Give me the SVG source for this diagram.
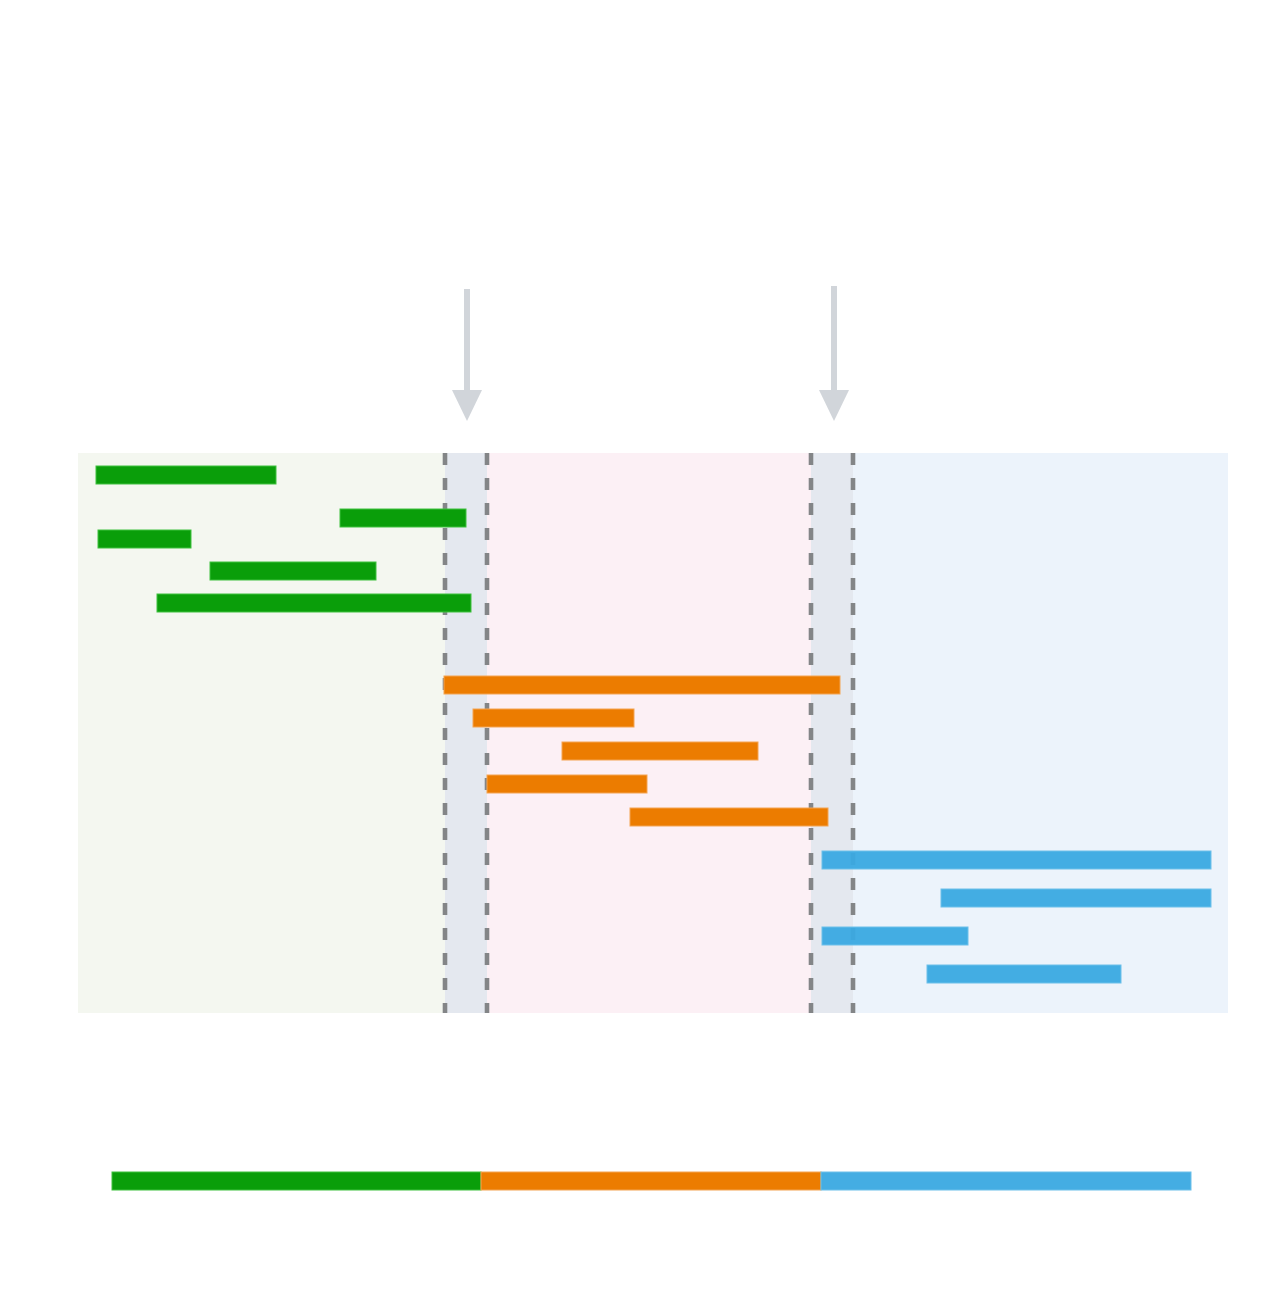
<svg xmlns="http://www.w3.org/2000/svg" width="1267" height="1303" viewBox="0 0 1267 1303">
<style>
.g{fill:#0a9e0a;stroke:#3ec13e;stroke-width:1}
.o{fill:#ec7c00;stroke:#f3a452;stroke-width:1}
.b{fill:#3aa9e1;fill-opacity:0.95;stroke:#6cc0ea;stroke-width:1}
.dash{stroke:#838587;stroke-width:4.6;stroke-dasharray:12 13;fill:none}
.arr{fill:#d1d5da}
</style>
<rect width="1267" height="1303" fill="#ffffff"/>
<g id="panels">
<rect x="78" y="453" width="367" height="560" fill="#f4f7f0"/>
<rect x="445" y="453" width="42" height="560" fill="#e4e8ef"/>
<rect x="487" y="453" width="324" height="560" fill="#fcf0f5"/>
<rect x="811" y="453" width="42" height="560" fill="#e4e8ef"/>
<rect x="853" y="453" width="375" height="560" fill="#ecf3fb"/>
</g>
<g id="connectors">
<line class="dash" x1="445" y1="453" x2="445" y2="1013"/>
<line class="dash" x1="487" y1="453" x2="487" y2="1013"/>
<line class="dash" x1="811" y1="453" x2="811" y2="1013"/>
<line class="dash" x1="853" y1="453" x2="853" y2="1013"/>
<g id="arrow1"><rect class="arr" x="464" y="289" width="6" height="103"/><polygon class="arr" points="452,390 482,390 467,421"/></g>
<g id="arrow2"><rect class="arr" x="831" y="286" width="6" height="106"/><polygon class="arr" points="819,390 849,390 834,421"/></g>
</g>
<g id="green-bars">
<rect class="g" x="96" y="466" width="180" height="18"/>
<rect class="g" x="340" y="509" width="126" height="18"/>
<rect class="g" x="98" y="530" width="93" height="18"/>
<rect class="g" x="210" y="562" width="166" height="18"/>
<rect class="g" x="157" y="594" width="314" height="18"/>
</g>
<g id="orange-bars">
<rect class="o" x="444" y="676" width="396" height="18"/>
<rect class="o" x="473" y="709" width="161" height="18"/>
<rect class="o" x="562" y="742" width="196" height="18"/>
<rect class="o" x="487" y="775" width="160" height="18"/>
<rect class="o" x="630" y="808" width="198" height="18"/>
</g>
<g id="blue-bars">
<rect class="b" x="822" y="851" width="389" height="18"/>
<rect class="b" x="941" y="889" width="270" height="18"/>
<rect class="b" x="822" y="927" width="146" height="18"/>
<rect class="b" x="927" y="965" width="194" height="18"/>
</g>
<g id="timeline">
<rect class="g" x="112" y="1172" width="369" height="18"/>
<rect class="o" x="481" y="1172" width="340" height="18"/>
<rect class="b" x="821" y="1172" width="370" height="18" fill-opacity="1"/>
</g>
</svg>
